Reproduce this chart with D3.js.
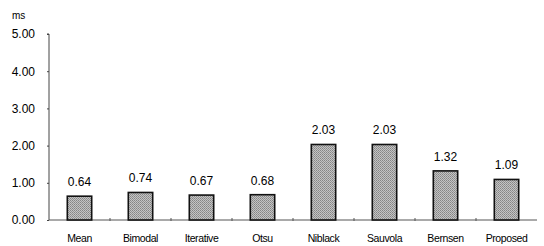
<!DOCTYPE html>
<html>
<head>
<meta charset="utf-8">
<script src="https://cdn.jsdelivr.net/npm/d3@7"></script>
<style>
  body { margin: 0; background: #fff; }
  text { font-family: "Liberation Sans", Arial, sans-serif; fill: #000; }
</style>
</head>
<body>
<div id="chart"></div>
<script>
// data
const methods = ["Mean", "Bimodal", "Iterative", "Otsu", "Niblack", "Sauvola", "Bernsen", "Proposed"];
const times = [0.64, 0.74, 0.67, 0.68, 2.03, 2.03, 1.32, 1.09];
const yTicks = [0, 1, 2, 3, 4, 5];

const width = 544, height = 246;
const margin = { top: 34, right: 7, bottom: 26, left: 49 };

const svg = d3.select("#chart")
  .append("svg")
  .attr("width", width)
  .attr("height", height);

// halftone-ish fill like the scanned print
const defs = svg.append("defs");
const pat = defs.append("pattern")
  .attr("id", "dots")
  .attr("width", 2)
  .attr("height", 2)
  .attr("patternUnits", "userSpaceOnUse");
pat.append("rect").attr("width", 2).attr("height", 2).attr("fill", "#c4c4c4");
pat.append("rect").attr("width", 1).attr("height", 1).attr("fill", "#858585");
pat.append("rect").attr("x", 1).attr("y", 1).attr("width", 1).attr("height", 1).attr("fill", "#959595");

const x = d3.scaleBand()
  .domain(methods)
  .range([margin.left, width - margin.right])
  .paddingInner(0.6)
  .paddingOuter(0.3);

const y = d3.scaleLinear()
  .domain([0, 5])
  .range([height - margin.bottom, margin.top]);

// y axis
const yAxis = svg.append("g")
  .attr("transform", `translate(${margin.left},0)`)
  .call(d3.axisLeft(y).tickValues(yTicks).tickFormat(d3.format(".2f")).tickSize(2).tickPadding(12));
yAxis.select(".domain").attr("stroke", "#444").attr("d", `M-2,${y(5)}H0V${y(0)}`);
yAxis.selectAll(".tick line").attr("stroke", "#444");
yAxis.selectAll(".tick text")
  .attr("font-size", 12)
  .attr("font-family", "Liberation Sans, Arial, sans-serif")
  .attr("fill", "#000");

// unit label
svg.append("text")
  .attr("x", 12)
  .attr("y", 19)
  .attr("font-size", 10)
  .text("ms");

// baseline with category separators
const step = x.step();
svg.append("line")
  .attr("x1", margin.left)
  .attr("x2", width - margin.right)
  .attr("y1", y(0))
  .attr("y2", y(0))
  .attr("stroke", "#555")
  .attr("stroke-width", 1);
svg.append("g")
  .selectAll("line")
  .data(methods.slice(1))
  .join("line")
  .attr("x1", d => x(d) - (step - x.bandwidth()) / 2)
  .attr("x2", d => x(d) - (step - x.bandwidth()) / 2)
  .attr("y1", y(0) - 2)
  .attr("y2", y(0) + 1)
  .attr("stroke", "#555");

// bars
svg.append("g")
  .selectAll("rect")
  .data(methods)
  .join("rect")
  .attr("x", d => x(d))
  .attr("width", x.bandwidth())
  .attr("y", (d, i) => y(times[i]))
  .attr("height", (d, i) => y(0) - y(times[i]))
  .attr("fill", "url(#dots)")
  .attr("stroke", "#111")
  .attr("stroke-width", 1.6);

// value labels
svg.append("g")
  .selectAll("text")
  .data(methods)
  .join("text")
  .attr("x", d => x(d) + x.bandwidth() / 2)
  .attr("y", (d, i) => y(times[i]) - 10)
  .attr("text-anchor", "middle")
  .attr("font-size", 12)
  .text((d, i) => d3.format(".2f")(times[i]));

// category labels
svg.append("g")
  .selectAll("text")
  .data(methods)
  .join("text")
  .attr("x", d => x(d) + x.bandwidth() / 2)
  .attr("y", 242)
  .attr("text-anchor", "middle")
  .attr("font-size", 10.5)
  .attr("letter-spacing", -0.4)
  .text(d => d);
</script>
</body>
</html>
